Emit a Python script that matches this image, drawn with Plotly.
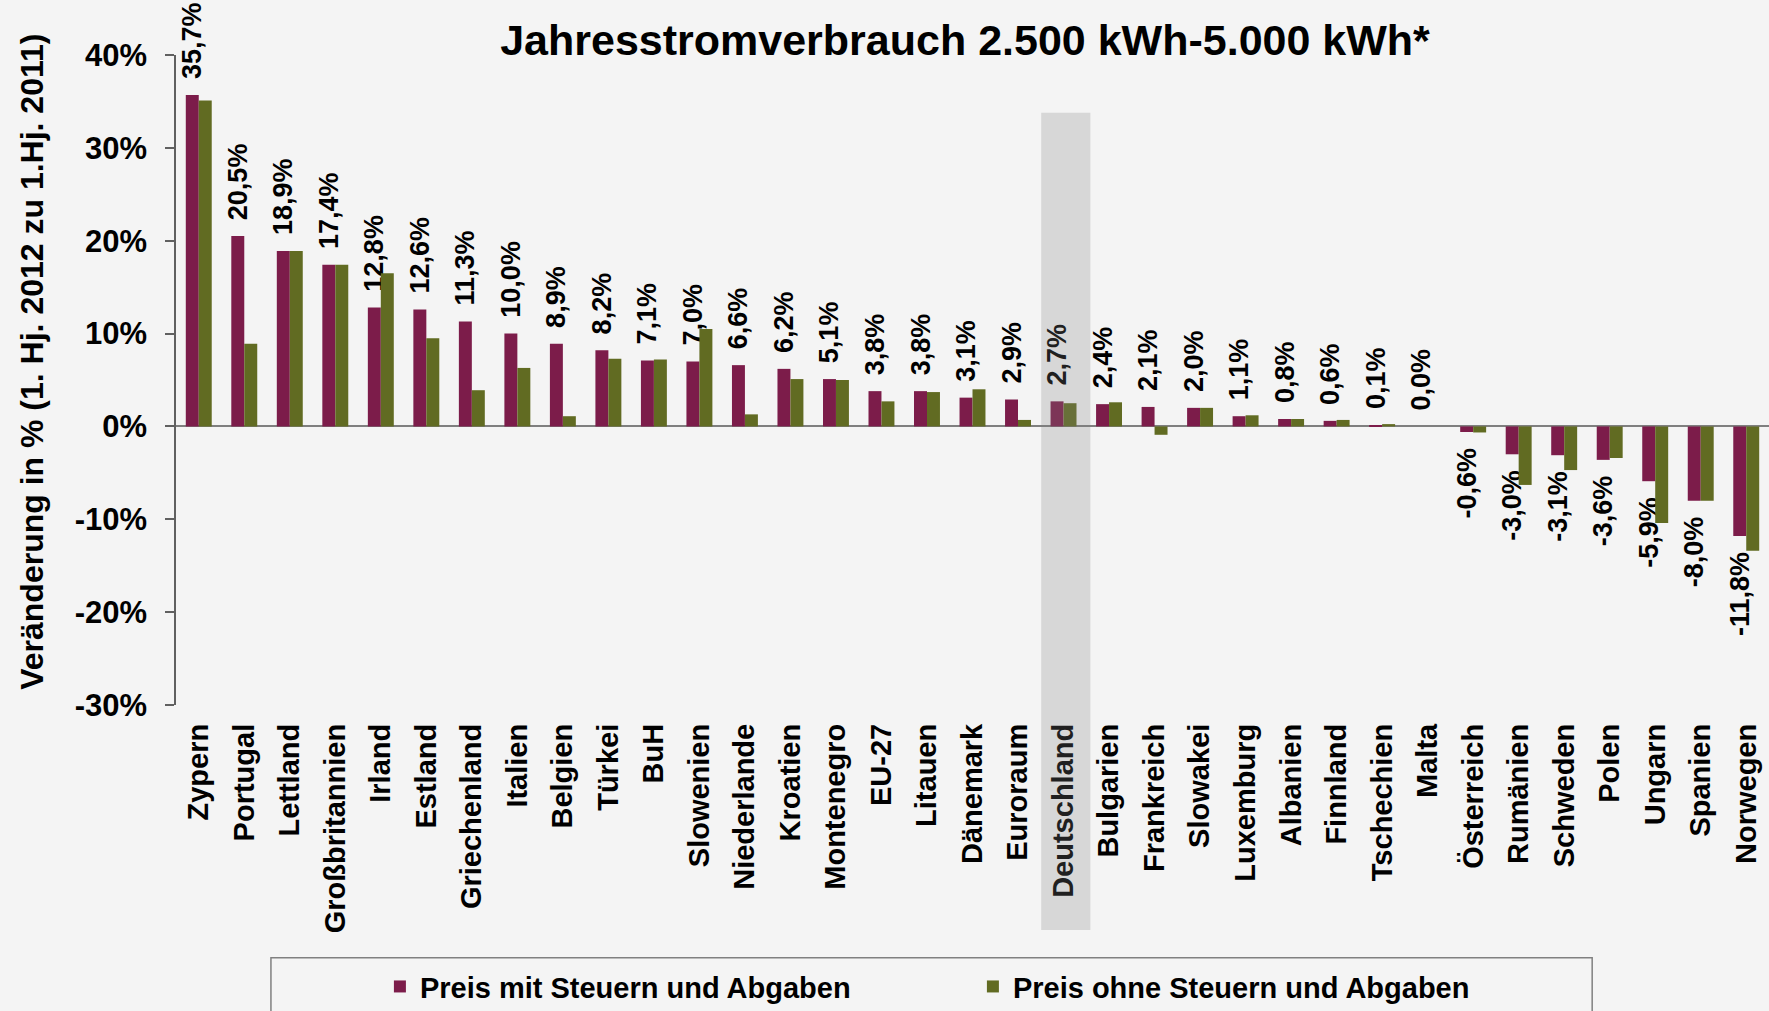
import plotly.graph_objects as go

categories = ["Zypern", "Portugal", "Lettland", "Großbritannien", "Irland", "Estland",
              "Griechenland", "Italien", "Belgien", "Türkei", "BuH", "Slowenien",
              "Niederlande", "Kroatien", "Montenegro", "EU-27", "Litauen", "Dänemark",
              "Euroraum", "Deutschland", "Bulgarien", "Frankreich", "Slowakei", "Luxemburg",
              "Albanien", "Finnland", "Tschechien", "Malta", "Österreich", "Rumänien",
              "Schweden", "Polen", "Ungarn", "Spanien", "Norwegen"]

preis_mit = [35.7, 20.5, 18.9, 17.4, 12.8, 12.6, 11.3, 10.0, 8.9, 8.2, 7.1, 7.0, 6.6, 6.2,
             5.1, 3.8, 3.8, 3.1, 2.9, 2.7, 2.4, 2.1, 2.0, 1.1, 0.8, 0.6, 0.1, 0.0, -0.6,
             -3.0, -3.1, -3.6, -5.9, -8.0, -11.8]

preis_ohne = [35.1, 8.9, 18.9, 17.4, 16.5, 9.5, 3.9, 6.3, 1.1, 7.3, 7.2, 10.5, 1.3, 5.1,
              5.0, 2.7, 3.7, 4.0, 0.7, 2.5, 2.6, -0.9, 2.0, 1.2, 0.8, 0.7, 0.25, 0.0, -0.65,
              -6.3, -4.7, -3.4, -10.4, -8.0, -13.4]

tick_vals = [-30, -20, -10, 0, 10, 20, 30, 40]
tick_text = ["-30%", "-20%", "-10%", "0%", "10%", "20%", "30%", "40%"]

highlight = "Deutschland"

FONT = "Liberation Sans, Arial, sans-serif"
PURPLE = "#7C1C4A"
GREEN = "#616B22"
BG = "#F4F4F4"

def fmt(v):
    s = f"{v:.1f}%".replace(".", ",")
    pad = "\u00a0\u2009"
    return pad + s if v >= 0 else s + pad

labels = [fmt(v) for v in preis_mit]

fig = go.Figure()
fig.add_trace(go.Bar(
    x=categories, y=preis_mit, name="Preis mit Steuern und Abgaben",
    marker=dict(color=PURPLE, line=dict(width=0)),
    text=labels, textposition="outside", textangle=-90,
    textfont=dict(family=FONT, size=27, color="black", weight="bold"),
    cliponaxis=False, constraintext="none",
))
fig.add_trace(go.Bar(
    x=categories, y=preis_ohne, name="Preis ohne Steuern und Abgaben",
    marker=dict(color=GREEN, line=dict(width=0)),
))

hi = categories.index(highlight)
fig.add_shape(type="rect", xref="x", yref="paper",
              x0=hi - 0.49, x1=hi + 0.59, y0=-0.346, y1=0.911,
              fillcolor="rgba(128,128,128,0.25)", line=dict(width=0), layer="above")

# legend frame
fig.add_shape(type="rect", xref="paper", yref="paper",
              x0=0.0596, x1=0.889, y0=-0.52, y1=-0.389,
              fillcolor="rgba(0,0,0,0)", line=dict(color="#808080", width=1.5), layer="above")

# y-axis title
fig.add_annotation(text="Veränderung in % (1. Hj. 2012 zu 1.Hj. 2011)",
                   xref="paper", yref="paper", x=0, y=0.528, xanchor="center", yanchor="middle",
                   xshift=-144, textangle=-90, showarrow=False,
                   font=dict(family=FONT, size=32, color="black", weight="bold"))

fig.update_layout(
    width=1769, height=1011,
    paper_bgcolor=BG, plot_bgcolor=BG,
    margin=dict(l=176, r=0, t=55, b=306, autoexpand=False),
    barmode="group", bargap=0.43, bargroupgap=0,
    font=dict(family=FONT, color="black"),
    title=dict(text="Jahresstromverbrauch 2.500 kWh-5.000 kWh*",
               font=dict(family=FONT, size=43, color="black", weight="bold"),
               x=0.5455, xref="container", xanchor="center",
               y=0.96, yref="container", yanchor="middle"),
    showlegend=True,
    legend=dict(orientation="h", x=0.128, xanchor="left", y=-0.394, yanchor="top",
                font=dict(family=FONT, size=29, color="black", weight="bold"),
                bgcolor="rgba(0,0,0,0)", borderwidth=0,
                entrywidth=548, entrywidthmode="pixels", traceorder="normal"),
    xaxis=dict(type="category", tickangle=-90, showline=False, ticks="",
               showgrid=False, zeroline=False, ticklabelstandoff=12,
               tickfont=dict(family=FONT, size=29, color="black", weight="bold"),
               range=[-0.5, len(categories) - 0.5]),
    yaxis=dict(range=[-30, 40], tickvals=tick_vals, ticktext=tick_text,
               showgrid=False, showline=True, linecolor="#606060", linewidth=1.5,
               ticks="outside", ticklen=9, tickcolor="#606060", tickwidth=1.5,
               ticklabelstandoff=12,
               zeroline=True, zerolinecolor="#7F7F7F", zerolinewidth=2,
               tickfont=dict(family=FONT, size=31, color="black", weight="bold")),
)

fig.write_html("out.html", config={"displayModeBar": False},
               post_script="document.body.style.margin='0';document.body.style.background='#F4F4F4';document.body.style.overflow='hidden';")
